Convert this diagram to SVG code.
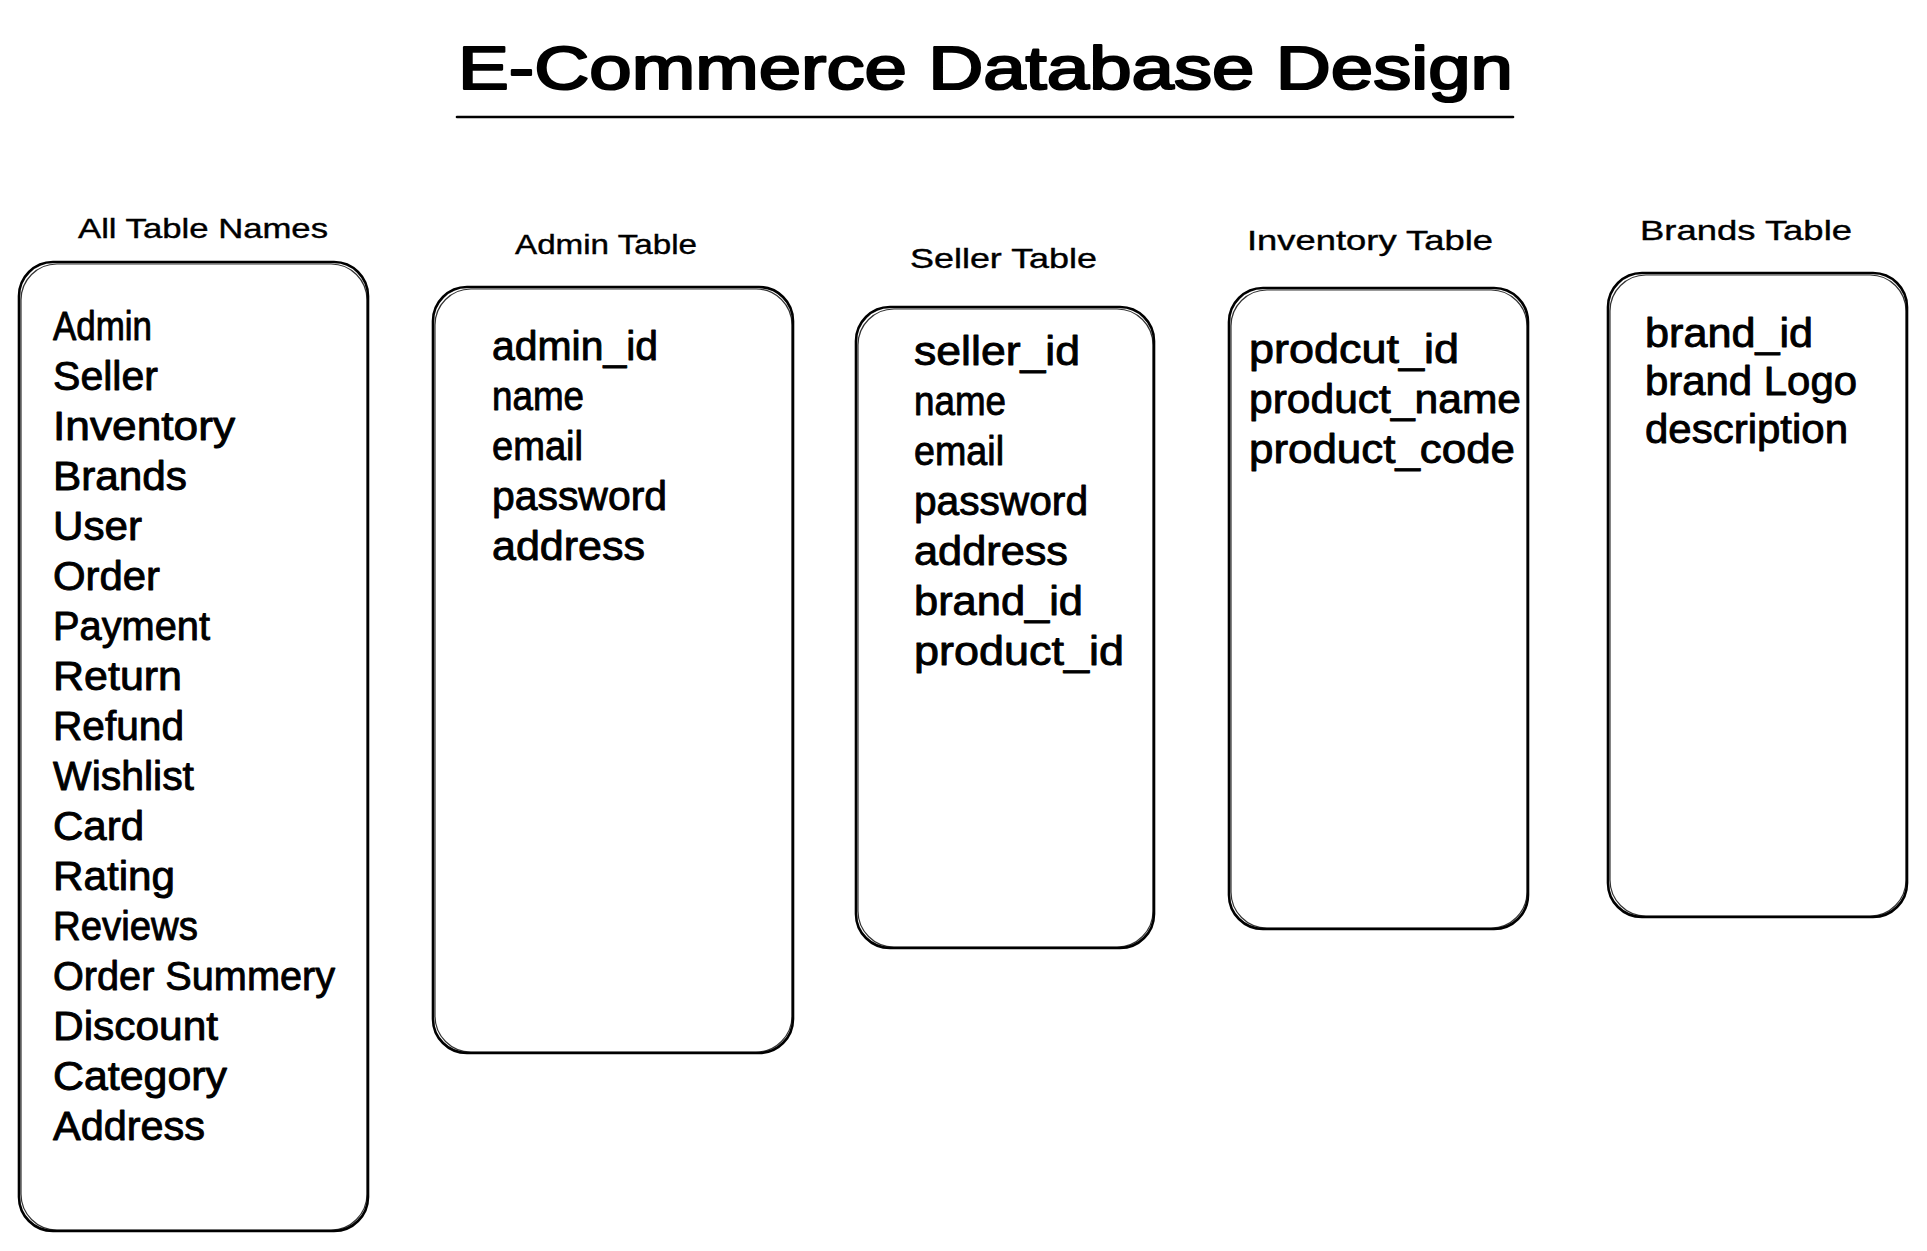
<svg xmlns="http://www.w3.org/2000/svg" width="1927" height="1251" viewBox="0 0 1927 1251">
<style>
.bg{fill:#ffffff}
.box{fill:none;stroke:#000;stroke-width:2.6;stroke-linejoin:round}
.box2{fill:none;stroke:#000;stroke-width:1.2;opacity:0.8}
.title{font-family:"Liberation Sans",Arial,sans-serif;font-size:62px;fill:#000;stroke:#000;stroke-width:2.2;stroke-linejoin:round}
.head{font-family:"Liberation Sans",Arial,sans-serif;font-size:28px;fill:#000;stroke:#000;stroke-width:0.4}
.item{font-family:"Liberation Sans",Arial,sans-serif;font-size:40px;fill:#000;stroke:#000;stroke-width:0.9;stroke-linejoin:round}
.line{stroke:#000;stroke-width:2.6;fill:none;stroke-linecap:round}
</style>
<rect class="bg" x="0" y="0" width="1927" height="1251"/>

<g id="title">
<text class="title" x="458" y="89" textLength="1055" lengthAdjust="spacingAndGlyphs">E-Commerce Database Design</text>
<line class="line" x1="457" y1="117" x2="1513" y2="117"/>
</g>

<g id="all-table-names">
<text class="head" x="78" y="238" textLength="250" lengthAdjust="spacingAndGlyphs">All Table Names</text>
<rect class="box" x="19" y="262" width="349" height="969" rx="34"/>
<rect class="box2" x="21" y="264" width="346" height="966" rx="36"/>
<text class="item" x="53" y="340" textLength="99" lengthAdjust="spacingAndGlyphs">Admin</text>
<text class="item" x="53" y="390" textLength="105" lengthAdjust="spacingAndGlyphs">Seller</text>
<text class="item" x="53" y="440" textLength="182" lengthAdjust="spacingAndGlyphs">Inventory</text>
<text class="item" x="53" y="490" textLength="134" lengthAdjust="spacingAndGlyphs">Brands</text>
<text class="item" x="53" y="540" textLength="89" lengthAdjust="spacingAndGlyphs">User</text>
<text class="item" x="53" y="590" textLength="107" lengthAdjust="spacingAndGlyphs">Order</text>
<text class="item" x="53" y="640" textLength="157" lengthAdjust="spacingAndGlyphs">Payment</text>
<text class="item" x="53" y="690" textLength="129" lengthAdjust="spacingAndGlyphs">Return</text>
<text class="item" x="53" y="740" textLength="131" lengthAdjust="spacingAndGlyphs">Refund</text>
<text class="item" x="53" y="790" textLength="141" lengthAdjust="spacingAndGlyphs">Wishlist</text>
<text class="item" x="53" y="840" textLength="91" lengthAdjust="spacingAndGlyphs">Card</text>
<text class="item" x="53" y="890" textLength="122" lengthAdjust="spacingAndGlyphs">Rating</text>
<text class="item" x="53" y="940" textLength="145" lengthAdjust="spacingAndGlyphs">Reviews</text>
<text class="item" x="53" y="990" textLength="282" lengthAdjust="spacingAndGlyphs">Order Summery</text>
<text class="item" x="53" y="1040" textLength="165" lengthAdjust="spacingAndGlyphs">Discount</text>
<text class="item" x="53" y="1090" textLength="174" lengthAdjust="spacingAndGlyphs">Category</text>
<text class="item" x="53" y="1140" textLength="152" lengthAdjust="spacingAndGlyphs">Address</text>
</g>

<g id="admin-table">
<text class="head" x="515" y="254" textLength="182" lengthAdjust="spacingAndGlyphs">Admin Table</text>
<rect class="box" x="433" y="287" width="360" height="766" rx="34"/>
<rect class="box2" x="435" y="289" width="357" height="763" rx="36"/>
<text class="item" x="492" y="360" textLength="166" lengthAdjust="spacingAndGlyphs">admin_id</text>
<text class="item" x="492" y="410" textLength="92" lengthAdjust="spacingAndGlyphs">name</text>
<text class="item" x="492" y="460" textLength="91" lengthAdjust="spacingAndGlyphs">email</text>
<text class="item" x="492" y="510" textLength="175" lengthAdjust="spacingAndGlyphs">password</text>
<text class="item" x="492" y="560" textLength="153" lengthAdjust="spacingAndGlyphs">address</text>
</g>

<g id="seller-table">
<text class="head" x="910" y="268" textLength="187" lengthAdjust="spacingAndGlyphs">Seller Table</text>
<rect class="box" x="856" y="307" width="298" height="641" rx="34"/>
<rect class="box2" x="858" y="309" width="295" height="638" rx="36"/>
<text class="item" x="914" y="365" textLength="166" lengthAdjust="spacingAndGlyphs">seller_id</text>
<text class="item" x="914" y="415" textLength="92" lengthAdjust="spacingAndGlyphs">name</text>
<text class="item" x="914" y="465" textLength="90" lengthAdjust="spacingAndGlyphs">email</text>
<text class="item" x="914" y="515" textLength="174" lengthAdjust="spacingAndGlyphs">password</text>
<text class="item" x="914" y="565" textLength="154" lengthAdjust="spacingAndGlyphs">address</text>
<text class="item" x="914" y="615" textLength="169" lengthAdjust="spacingAndGlyphs">brand_id</text>
<text class="item" x="914" y="665" textLength="210" lengthAdjust="spacingAndGlyphs">product_id</text>
</g>

<g id="inventory-table">
<text class="head" x="1247" y="250" textLength="246" lengthAdjust="spacingAndGlyphs">Inventory Table</text>
<rect class="box" x="1229" y="288" width="299" height="641" rx="34"/>
<rect class="box2" x="1231" y="290" width="296" height="638" rx="36"/>
<text class="item" x="1249" y="363" textLength="210" lengthAdjust="spacingAndGlyphs">prodcut_id</text>
<text class="item" x="1249" y="413" textLength="272" lengthAdjust="spacingAndGlyphs">product_name</text>
<text class="item" x="1249" y="463" textLength="266" lengthAdjust="spacingAndGlyphs">product_code</text>
</g>

<g id="brands-table">
<text class="head" x="1640" y="240" textLength="212" lengthAdjust="spacingAndGlyphs">Brands Table</text>
<rect class="box" x="1608" y="273" width="299" height="644" rx="34"/>
<rect class="box2" x="1610" y="275" width="296" height="641" rx="36"/>
<text class="item" x="1645" y="347" textLength="168" lengthAdjust="spacingAndGlyphs">brand_id</text>
<text class="item" x="1645" y="395" textLength="212" lengthAdjust="spacingAndGlyphs">brand Logo</text>
<text class="item" x="1645" y="443" textLength="203" lengthAdjust="spacingAndGlyphs">description</text>
</g>

<g id="connectors"></g>
</svg>
